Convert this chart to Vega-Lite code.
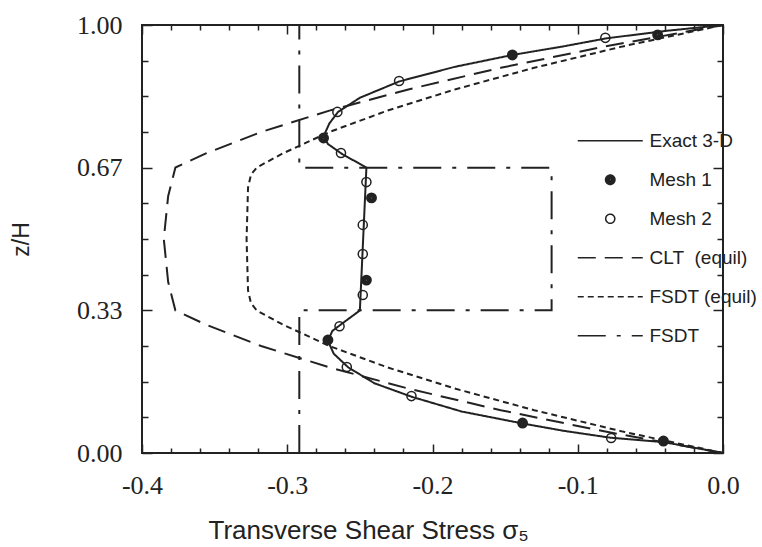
{
  "$schema": "https://vega.github.io/schema/vega-lite/v6.json",
  "width": 581,
  "height": 428,
  "autosize": {"type": "none"},
  "padding": {"left": 142, "top": 25, "right": 39, "bottom": 94},
  "background": "white",
  "config": {
    "locale": {"number": {"decimal": ".", "thousands": ",", "grouping": [3], "currency": ["$", ""], "minus": "-"}},
    "view": {"stroke": "#222", "strokeWidth": 2},
    "axis": {"grid": false, "domain": false, "labelFont": "Liberation Serif", "labelFontSize": 26, "labelColor": "#222", "titleFont": "Liberation Sans", "titleFontWeight": "normal", "titleColor": "#222", "labelFlush": false},
    "legend": {"orient": "none", "legendX": 451.25, "legendY": 98.75, "padding": 0, "labelFont": "Liberation Sans", "labelFontSize": 19, "labelColor": "#222", "symbolSize": 1056.25, "symbolStrokeWidth": 1.5, "symbolStrokeColor": "#222", "symbolOpacity": 1, "rowPadding": 12, "labelOffset": 22.25}
  },
  "datasets": {
    "lines": [
      {"s": "Exact 3-D", "i": 0, "x": 0, "z": 0},
      {"s": "Exact 3-D", "i": 1, "x": -0.040, "z": 0.025},
      {"s": "Exact 3-D", "i": 2, "x": -0.078, "z": 0.036},
      {"s": "Exact 3-D", "i": 3, "x": -0.110, "z": 0.052},
      {"s": "Exact 3-D", "i": 4, "x": -0.138, "z": 0.069},
      {"s": "Exact 3-D", "i": 5, "x": -0.180, "z": 0.097},
      {"s": "Exact 3-D", "i": 6, "x": -0.214, "z": 0.131},
      {"s": "Exact 3-D", "i": 7, "x": -0.240, "z": 0.163},
      {"s": "Exact 3-D", "i": 8, "x": -0.258, "z": 0.200},
      {"s": "Exact 3-D", "i": 9, "x": -0.268, "z": 0.232},
      {"s": "Exact 3-D", "i": 10, "x": -0.272, "z": 0.262},
      {"s": "Exact 3-D", "i": 11, "x": -0.269, "z": 0.285},
      {"s": "Exact 3-D", "i": 12, "x": -0.262, "z": 0.303},
      {"s": "Exact 3-D", "i": 13, "x": -0.250, "z": 0.333},
      {"s": "Exact 3-D", "i": 14, "x": -0.2455, "z": 0.667},
      {"s": "Exact 3-D", "i": 15, "x": -0.262, "z": 0.698},
      {"s": "Exact 3-D", "i": 16, "x": -0.272, "z": 0.722},
      {"s": "Exact 3-D", "i": 17, "x": -0.275, "z": 0.740},
      {"s": "Exact 3-D", "i": 18, "x": -0.271, "z": 0.770},
      {"s": "Exact 3-D", "i": 19, "x": -0.265, "z": 0.797},
      {"s": "Exact 3-D", "i": 20, "x": -0.250, "z": 0.830},
      {"s": "Exact 3-D", "i": 21, "x": -0.223, "z": 0.868},
      {"s": "Exact 3-D", "i": 22, "x": -0.185, "z": 0.902},
      {"s": "Exact 3-D", "i": 23, "x": -0.145, "z": 0.930},
      {"s": "Exact 3-D", "i": 24, "x": -0.110, "z": 0.950},
      {"s": "Exact 3-D", "i": 25, "x": -0.080, "z": 0.969},
      {"s": "Exact 3-D", "i": 26, "x": -0.040, "z": 0.986},
      {"s": "Exact 3-D", "i": 27, "x": 0, "z": 1},
      {"s": "CLT\u00a0\u00a0(equil)", "i": 0, "x": 0, "z": 0},
      {"s": "CLT\u00a0\u00a0(equil)", "i": 1, "x": -0.081, "z": 0.05},
      {"s": "CLT\u00a0\u00a0(equil)", "i": 2, "x": -0.153, "z": 0.10},
      {"s": "CLT\u00a0\u00a0(equil)", "i": 3, "x": -0.216, "z": 0.15},
      {"s": "CLT\u00a0\u00a0(equil)", "i": 4, "x": -0.271, "z": 0.20},
      {"s": "CLT\u00a0\u00a0(equil)", "i": 5, "x": -0.318, "z": 0.25},
      {"s": "CLT\u00a0\u00a0(equil)", "i": 6, "x": -0.356, "z": 0.30},
      {"s": "CLT\u00a0\u00a0(equil)", "i": 7, "x": -0.377, "z": 0.333},
      {"s": "CLT\u00a0\u00a0(equil)", "i": 8, "x": -0.382, "z": 0.40},
      {"s": "CLT\u00a0\u00a0(equil)", "i": 9, "x": -0.385, "z": 0.50},
      {"s": "CLT\u00a0\u00a0(equil)", "i": 10, "x": -0.382, "z": 0.60},
      {"s": "CLT\u00a0\u00a0(equil)", "i": 11, "x": -0.377, "z": 0.667},
      {"s": "CLT\u00a0\u00a0(equil)", "i": 12, "x": -0.356, "z": 0.70},
      {"s": "CLT\u00a0\u00a0(equil)", "i": 13, "x": -0.318, "z": 0.75},
      {"s": "CLT\u00a0\u00a0(equil)", "i": 14, "x": -0.271, "z": 0.80},
      {"s": "CLT\u00a0\u00a0(equil)", "i": 15, "x": -0.216, "z": 0.85},
      {"s": "CLT\u00a0\u00a0(equil)", "i": 16, "x": -0.153, "z": 0.90},
      {"s": "CLT\u00a0\u00a0(equil)", "i": 17, "x": -0.081, "z": 0.95},
      {"s": "CLT\u00a0\u00a0(equil)", "i": 18, "x": 0, "z": 1},
      {"s": "FSDT (equil)", "i": 0, "x": 0, "z": 0},
      {"s": "FSDT (equil)", "i": 1, "x": -0.069, "z": 0.05},
      {"s": "FSDT (equil)", "i": 2, "x": -0.130, "z": 0.10},
      {"s": "FSDT (equil)", "i": 3, "x": -0.184, "z": 0.15},
      {"s": "FSDT (equil)", "i": 4, "x": -0.231, "z": 0.20},
      {"s": "FSDT (equil)", "i": 5, "x": -0.271, "z": 0.25},
      {"s": "FSDT (equil)", "i": 6, "x": -0.303, "z": 0.30},
      {"s": "FSDT (equil)", "i": 7, "x": -0.321, "z": 0.333},
      {"s": "FSDT (equil)", "i": 8, "x": -0.325, "z": 0.35},
      {"s": "FSDT (equil)", "i": 9, "x": -0.327, "z": 0.38},
      {"s": "FSDT (equil)", "i": 10, "x": -0.328, "z": 0.50},
      {"s": "FSDT (equil)", "i": 11, "x": -0.327, "z": 0.62},
      {"s": "FSDT (equil)", "i": 12, "x": -0.325, "z": 0.65},
      {"s": "FSDT (equil)", "i": 13, "x": -0.321, "z": 0.667},
      {"s": "FSDT (equil)", "i": 14, "x": -0.303, "z": 0.70},
      {"s": "FSDT (equil)", "i": 15, "x": -0.271, "z": 0.75},
      {"s": "FSDT (equil)", "i": 16, "x": -0.231, "z": 0.80},
      {"s": "FSDT (equil)", "i": 17, "x": -0.184, "z": 0.85},
      {"s": "FSDT (equil)", "i": 18, "x": -0.130, "z": 0.90},
      {"s": "FSDT (equil)", "i": 19, "x": -0.069, "z": 0.95},
      {"s": "FSDT (equil)", "i": 20, "x": 0, "z": 1},
      {"s": "FSDT", "i": 0, "x": -0.2917, "z": 0},
      {"s": "FSDT", "i": 1, "x": -0.2917, "z": 0.3333},
      {"s": "FSDT", "i": 2, "x": -0.118, "z": 0.3333},
      {"s": "FSDT", "i": 3, "x": -0.118, "z": 0.6667},
      {"s": "FSDT", "i": 4, "x": -0.2917, "z": 0.6667},
      {"s": "FSDT", "i": 5, "x": -0.2917, "z": 1}
    ],
    "pts": [
      {"s": "Mesh 1", "x": -0.045, "z": 0.977},
      {"s": "Mesh 1", "x": -0.145, "z": 0.930},
      {"s": "Mesh 1", "x": -0.275, "z": 0.736},
      {"s": "Mesh 1", "x": -0.242, "z": 0.596},
      {"s": "Mesh 1", "x": -0.2455, "z": 0.404},
      {"s": "Mesh 1", "x": -0.272, "z": 0.264},
      {"s": "Mesh 1", "x": -0.138, "z": 0.070},
      {"s": "Mesh 1", "x": -0.041, "z": 0.028},
      {"s": "Mesh 2", "x": -0.081, "z": 0.970},
      {"s": "Mesh 2", "x": -0.223, "z": 0.869},
      {"s": "Mesh 2", "x": -0.2655, "z": 0.797},
      {"s": "Mesh 2", "x": -0.263, "z": 0.701},
      {"s": "Mesh 2", "x": -0.2455, "z": 0.633},
      {"s": "Mesh 2", "x": -0.248, "z": 0.533},
      {"s": "Mesh 2", "x": -0.248, "z": 0.465},
      {"s": "Mesh 2", "x": -0.248, "z": 0.369},
      {"s": "Mesh 2", "x": -0.264, "z": 0.296},
      {"s": "Mesh 2", "x": -0.259, "z": 0.201},
      {"s": "Mesh 2", "x": -0.2145, "z": 0.133},
      {"s": "Mesh 2", "x": -0.077, "z": 0.035}
    ]
  },
  "layer": [
    {
      "data": {"name": "lines"},
      "mark": {"type": "line", "color": "#222", "strokeWidth": 2},
      "encoding": {
        "x": {
          "field": "x", "type": "quantitative",
          "scale": {"domain": [-0.4, 0], "nice": false, "zero": false},
          "axis": {
            "orient": "bottom",
            "values": [-0.4, -0.3, -0.2, -0.1, 0],
            "format": ".1f",
            "tickColor": "#222", "tickWidth": 1.5, "tickSize": -9,
            "labelPadding": 28,
            "title": "Transverse Shear Stress  σ₅",
            "titleFontSize": 26,
            "titleAnchor": "start",
            "titleAlign": "left",
            "titleBaseline": "alphabetic",
            "titleX": 66,
            "titleY": 85
          }
        },
        "y": {
          "field": "z", "type": "quantitative",
          "scale": {"domain": [0, 1], "nice": false, "zero": false},
          "axis": {
            "orient": "left",
            "values": [0, 0.333333, 0.666667, 1],
            "format": ".2f",
            "tickColor": "#222", "tickWidth": 1.5, "tickSize": -10,
            "labelPadding": 30,
            "title": "z/H",
            "titleFontSize": 23,
            "titleAngle": -90,
            "titleAlign": "center",
            "titleBaseline": "middle",
            "titleX": -121,
            "titleY": 214
          }
        },
        "order": {"field": "i", "type": "quantitative"},
        "strokeDash": {
          "field": "s", "type": "nominal",
          "scale": {
            "domain": ["Exact 3-D", "Mesh 1", "Mesh 2", "CLT\u00a0\u00a0(equil)", "FSDT (equil)", "FSDT"],
            "range": [[1, 0], [1, 0], [1, 0], [18, 9], [6, 4], [28, 11, 4, 11]]
          },
          "legend": {"title": null}
        }
      }
    },
    {
      "data": {"name": "pts"},
      "mark": {"type": "point", "filled": false, "color": "#222", "opacity": 1, "strokeWidth": 1.5, "size": 1056.25},
      "encoding": {
        "x": {
          "field": "x", "type": "quantitative",
          "scale": {"domain": [-0.4, 0], "nice": false, "zero": false},
          "axis": {
            "orient": "top",
            "values": [-0.38, -0.36, -0.34, -0.32, -0.28, -0.26, -0.24, -0.22, -0.18, -0.16, -0.14, -0.12, -0.08, -0.06, -0.04, -0.02],
            "labels": false, "title": null,
            "tickColor": "#222", "tickWidth": 1.5, "tickSize": -5
          }
        },
        "y": {
          "field": "z", "type": "quantitative",
          "scale": {"domain": [0, 1], "nice": false, "zero": false},
          "axis": {
            "orient": "right",
            "values": [0.083333, 0.166667, 0.25, 0.416667, 0.5, 0.583333, 0.75, 0.833333, 0.916667],
            "labels": false, "title": null,
            "tickColor": "#222", "tickWidth": 1.5, "tickSize": -6
          }
        },
        "shape": {
          "field": "s", "type": "nominal",
          "scale": {
            "domain": ["Exact 3-D", "Mesh 1", "Mesh 2", "CLT\u00a0\u00a0(equil)", "FSDT (equil)", "FSDT"],
            "range": [
              "M-2,0L2,0",
              "M0.29,0A0.29,0.29,0,1,1,-0.29,0A0.29,0.29,0,1,1,0.29,0ZM0.22,0A0.22,0.22,0,1,1,-0.22,0A0.22,0.22,0,1,1,0.22,0ZM0.15,0A0.15,0.15,0,1,1,-0.15,0A0.15,0.15,0,1,1,0.15,0ZM0.08,0A0.08,0.08,0,1,1,-0.08,0A0.08,0.08,0,1,1,0.08,0ZM0.025,0A0.025,0.025,0,1,1,-0.025,0A0.025,0.025,0,1,1,0.025,0Z",
              "M0.28,0A0.28,0.28,0,1,1,-0.28,0A0.28,0.28,0,1,1,0.28,0Z",
              "M-2,0L2,0",
              "M-2,0L2,0",
              "M-2,0L2,0"
            ]
          },
          "legend": {"title": null}
        }
      }
    },
    {
      "data": {"name": "pts"},
      "mark": {"type": "point", "opacity": 0},
      "encoding": {
        "x": {
          "field": "x", "type": "quantitative",
          "scale": {"domain": [-0.4, 0], "nice": false, "zero": false},
          "axis": {
            "orient": "bottom",
            "values": [-0.38, -0.36, -0.34, -0.32, -0.28, -0.26, -0.24, -0.22, -0.18, -0.16, -0.14, -0.12, -0.08, -0.06, -0.04, -0.02],
            "labels": false, "title": null,
            "offset": -5,
            "tickColor": "#222", "tickWidth": 1.5, "tickSize": 5
          }
        },
        "y": {
          "field": "z", "type": "quantitative",
          "scale": {"domain": [0, 1], "nice": false, "zero": false},
          "axis": {
            "orient": "left",
            "values": [0.083333, 0.166667, 0.25, 0.416667, 0.5, 0.583333, 0.75, 0.833333, 0.916667],
            "labels": false, "title": null,
            "offset": -6,
            "tickColor": "#222", "tickWidth": 1.5, "tickSize": 6
          }
        }
      }
    },
    {
      "data": {"name": "pts"},
      "mark": {"type": "point", "opacity": 0},
      "encoding": {
        "x": {
          "field": "x", "type": "quantitative",
          "scale": {"domain": [-0.4, 0], "nice": false, "zero": false},
          "axis": {
            "orient": "top",
            "values": [-0.4, -0.3, -0.2, -0.1, 0],
            "labels": false, "title": null,
            "offset": -9,
            "tickColor": "#222", "tickWidth": 1.5, "tickSize": 9
          }
        },
        "y": {
          "field": "z", "type": "quantitative",
          "scale": {"domain": [0, 1], "nice": false, "zero": false},
          "axis": {
            "orient": "right",
            "values": [0, 0.333333, 0.666667, 1],
            "labels": false, "title": null,
            "offset": -10,
            "tickColor": "#222", "tickWidth": 1.5, "tickSize": 10
          }
        }
      }
    }
  ],
  "resolve": {"axis": {"x": "independent", "y": "independent"}}
}
